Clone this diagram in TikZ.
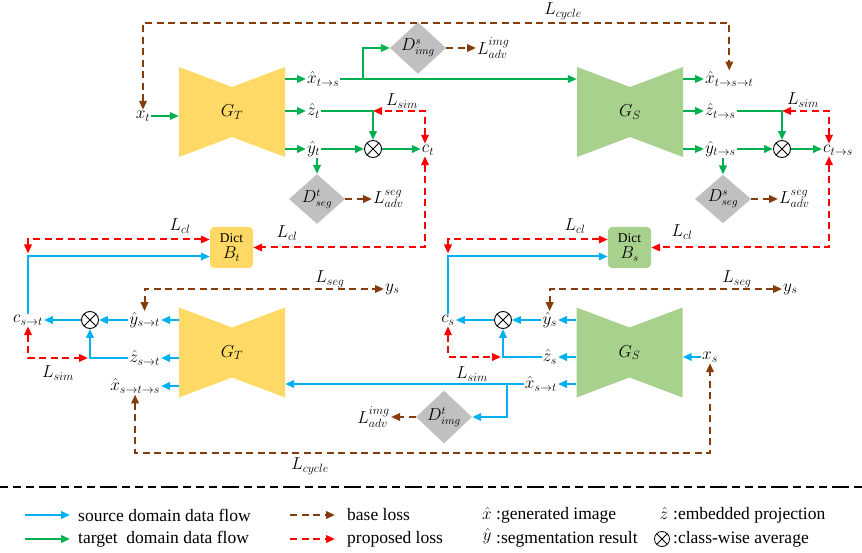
\documentclass[tikz,border=0pt]{standalone}
\usepackage{fontspec}
\setmainfont{Liberation Serif}
\usepackage{xcolor}
\usetikzlibrary{arrows.meta, positioning, calc, shapes.geometric}
\definecolor{tgreen}{HTML}{00B050}
\definecolor{sblue}{HTML}{00B0F0}
\definecolor{lbrown}{HTML}{843C0C}
\definecolor{genyellow}{HTML}{FFD966}
\definecolor{gengreen}{HTML}{A9D18E}
\definecolor{discgray}{HTML}{C0C0C0}

\begin{document}
\begin{tikzpicture}[
        x=1pt, y=-1pt,
        >={Triangle[length=9pt,width=7.5pt]},
        tflow/.style={draw=tgreen, line width=2pt, ->},
        sflow/.style={draw=sblue, line width=2pt, ->},
        baseloss/.style={draw=lbrown, line width=2pt, dash pattern=on 7pt off 4.5pt, ->},
        proploss/.style={draw=red, line width=2pt, dash pattern=on 7pt off 4.5pt, ->},
        lbl/.style={inner sep=1pt, font=\fontsize{16.5}{18}\selectfont},
        legtxt/.style={inner sep=3pt, font=\fontsize{17.5}{20}\selectfont},
        disc/.style={diamond, fill=discgray, minimum width=56pt, minimum height=42pt,
                     inner sep=0pt, font=\fontsize{16}{18}\selectfont},
        avg/.style={circle, draw, line width=0.9pt, minimum size=17pt, inner sep=0pt,
                    path picture={\draw[line width=0.9pt]
                      (path picture bounding box.north west) -- (path picture bounding box.south east)
                      (path picture bounding box.north east) -- (path picture bounding box.south west);}},
        dict/.style={rounded corners=4pt, minimum width=43pt, minimum height=41pt,
                     inner sep=1pt, align=center, font=\fontsize{16}{16}\selectfont},
        gen/.style={minimum width=106pt, minimum height=90pt, inner sep=0pt,
                    font=\fontsize{18}{20}\selectfont,
                    path picture={\fill[#1]
                      (path picture bounding box.north west)
                      -- ($(path picture bounding box.north)+(0,-20pt)$)
                      -- (path picture bounding box.north east)
                      -- (path picture bounding box.south east)
                      -- ($(path picture bounding box.south)+(0,20pt)$)
                      -- (path picture bounding box.south west) -- cycle;}},
        legline/.style={line width=1.6pt, dash pattern=on 8pt off 5pt on 8pt off 5pt on 8pt off 5pt on 17pt off 5pt}
      ]
      \useasboundingbox (0,0) rectangle (862,553);

      \node[lbl] (xt) at (143,116) {$x_t$};
      \node[gen=genyellow] (GT) at (232,112) {$G_T$};
      \node[lbl, anchor=west] (xts) at (306,79) {$\hat{x}_{t\to s}$};
      \node[lbl, anchor=west] (zt) at (306,111) {$\hat{z}_t$};
      \node[lbl, anchor=west] (yt) at (306,149) {$\hat{y}_t$};
      \node[disc] (Dsimg) at (418,48) {$D^{s}_{img}$};
      \node[lbl, anchor=west] (ladvimg1) at (476,48) {$L^{img}_{adv}$};
      \node[avg] (ot1) at (373,149) {};
      \node[lbl] (ct) at (428,150) {$c_t$};
      \node[lbl] (lsim1) at (402,101) {$L_{sim}$};
      \node[disc] (Dtseg) at (317,199) {$D^{t}_{seg}$};
      \node[lbl, anchor=west] (ladvseg1) at (372,199) {$L^{seg}_{adv}$};
      \node[lbl] (lcyc1) at (563,11) {$L_{cycle}$};
      \coordinate (cyctop) at (0,23);

      \node[gen=gengreen] (GS) at (630,112) {$G_S$};
      \node[lbl, anchor=west] (xtst) at (704,79) {$\hat{x}_{t\to s\to t}$};
      \node[lbl, anchor=west] (zts) at (704,111) {$\hat{z}_{t\to s}$};
      \node[lbl, anchor=west] (yts) at (704,149) {$\hat{y}_{t\to s}$};
      \node[avg] (ot2) at (782,149) {};
      \node[lbl] (cts) at (838,150) {$c_{t\to s}$};
      \node[lbl] (lsim2) at (803,100) {$L_{sim}$};
      \node[disc] (Dsseg) at (723,199) {$D^{s}_{seg}$};
      \node[lbl, anchor=west] (ladvseg2) at (778,199) {$L^{seg}_{adv}$};

      \node[dict, fill=genyellow] (Bt) at (231.5,247.5) {{\fontsize{13.5}{14}\selectfont Dict}\\$B_t$};
      \node[lbl] (lcl1) at (180,226) {$L_{cl}$};
      \node[lbl] (lcl2) at (287,233) {$L_{cl}$};
      \node[dict, fill=gengreen] (Bs) at (629.5,247.5) {{\fontsize{13.5}{14}\selectfont Dict}\\$B_s$};
      \node[lbl] (lcl3) at (575,226) {$L_{cl}$};
      \node[lbl] (lcl4) at (682,232) {$L_{cl}$};

      \node[gen=genyellow] (GT2) at (232,352.5) {$G_T$};
      \node[lbl] (cst) at (28,320) {$c_{s\to t}$};
      \node[avg] (ot3) at (90,320) {};
      \node[lbl, anchor=east] (yst) at (161,320) {$\hat{y}_{s\to t}$};
      \node[lbl, anchor=east] (zst) at (161,358) {$\hat{z}_{s\to t}$};
      \node[lbl, anchor=east] (xsts) at (161,386) {$\hat{x}_{s\to t\to s}$};
      \node[lbl] (lsim3) at (58,373) {$L_{sim}$};
      \node[lbl, anchor=west] (ys1) at (384,289) {$y_s$};
      \node[lbl] (lseg1) at (330,279) {$L_{seg}$};
      \node[disc] (Dtimg) at (444,417) {$D^{t}_{img}$};
      \node[lbl, anchor=east] (ladvimg2) at (391,417) {$L^{img}_{adv}$};
      \node[lbl] (lcyc2) at (310,466) {$L_{cycle}$};
      \coordinate (cycbot) at (0,453);

      \node[gen=gengreen] (GS2) at (629.5,352.5) {$G_S$};
      \node[lbl] (cs) at (448,320) {$c_s$};
      \node[avg] (ot4) at (503,320) {};
      \node[lbl, anchor=east] (ysh) at (558,320) {$\hat{y}_s$};
      \node[lbl, anchor=east] (zs) at (558,357) {$\hat{z}_s$};
      \node[lbl, anchor=east] (xst) at (558,384) {$\hat{x}_{s\to t}$};
      \node[lbl, anchor=west] (xs) at (701,357) {$x_s$};
      \node[lbl] (lsim4) at (472,374) {$L_{sim}$};
      \node[lbl, anchor=west] (ys2) at (782,289) {$y_s$};
      \node[lbl] (lseg2) at (737,279) {$L_{seg}$};

      \draw[baseloss, <->] (xt.north) -- (xt.north |- cyctop) -| (xtst.north);
      \draw[tflow] (xt.east) -- (xt.east -| GT.west);
      \draw[tflow] (GT.east |- xts.west) -- (xts.west);
      \draw[tflow] (GT.east |- zt.west) -- (zt.west);
      \draw[tflow] (GT.east |- yt.west) -- (yt.west);
      \draw[tflow] (xts.east) -- (xts.east -| GS.west);
      \draw[tflow] ($(xts.east)+(23pt,0)$) |- (Dsimg.west);
      \draw[baseloss] (Dsimg.east) -- (ladvimg1.west);
      \draw[tflow] (zt.east) -| (ot1.north);
      \draw[tflow] (yt.east) -- (ot1.west);
      \draw[tflow] (ot1.east) -- (ot1.east -| ct.west);
      \draw[proploss, <->] ($(ct.north)+(-3pt,0)$) |- (ot1.north |- zt.east);
      \draw[tflow] (yt.south -| Dtseg.north) -- (Dtseg.north);
      \draw[baseloss] (Dtseg.east) -- (ladvseg1.west);
      \draw[proploss, <->] ($(ct.south)+(-3pt,0)$) |- (Bt.east);

      \draw[tflow] (GS.east |- xtst.west) -- (xtst.west);
      \draw[tflow] (GS.east |- zts.west) -- (zts.west);
      \draw[tflow] (GS.east |- yts.west) -- (yts.west);
      \draw[tflow] (zts.east) -| (ot2.north);
      \draw[tflow] (yts.east) -- (ot2.west);
      \draw[tflow] (ot2.east) -- (ot2.east -| cts.west);
      \draw[proploss, <->] ($(cts.north)+(-9pt,0)$) |- (ot2.north |- zts.east);
      \draw[tflow] (yts.south -| Dsseg.north) -- (Dsseg.north);
      \draw[baseloss] (Dsseg.east) -- (ladvseg2.west);
      \draw[proploss, <->] ($(cts.south)+(-9pt,0)$) |- (Bs.east);

      \draw[sflow] (cst.north) |- ($(Bt.west)+(0,-9pt)$);
      \draw[proploss, <->] ($(Bt.west)+(0,8pt)$) -| ($(cst.north |- Bt.west)+(0,-6pt)$);
      \draw[sflow] (GT2.west |- yst.east) -- (yst.east);
      \draw[sflow] (GT2.west |- zst.east) -- (zst.east);
      \draw[sflow] (GT2.west |- xsts.east) -- (xsts.east);
      \draw[sflow] (yst.west) -- (ot3.east);
      \draw[sflow] (ot3.west) -- (cst.east);
      \draw[sflow] (zst.west) -| (ot3.south);
      \draw[proploss, <->] (cst.south) |- ($(ot3.south |- zst.west)+(-2pt,0)$);
      \draw[baseloss, <->] (yst.north) |- (ys1.west);
      \draw[baseloss, <->] (xsts.south) -- (xsts.south |- cycbot) -| (xs.south);

      \draw[sflow] (xs.west) -- (xs.west -| GS2.east);
      \draw[sflow] (GS2.west |- ysh.east) -- (ysh.east);
      \draw[sflow] (GS2.west |- zs.east) -- (zs.east);
      \draw[sflow] (GS2.west |- xst.east) -- (xst.east);
      \draw[sflow] (xst.west) -- (xst.west -| GT2.east);
      \draw[sflow] ($(xst.west)+(-17pt,0)$) |- (Dtimg.east);
      \draw[baseloss] (Dtimg.west) -- (ladvimg2.east);
      \draw[sflow] (cs.north) |- ($(Bs.west)+(0,-9pt)$);
      \draw[proploss, <->] ($(Bs.west)+(0,8pt)$) -| ($(cs.north |- Bs.west)+(0,-6pt)$);
      \draw[sflow] (ysh.west) -- (ot4.east);
      \draw[sflow] (ot4.west) -- (cs.east);
      \draw[sflow] (zs.west) -| (ot4.south);
      \draw[proploss, <->] (cs.south) |- ($(ot4.south |- zs.west)+(-2pt,0)$);
      \draw[baseloss, <->] (ysh.north) |- (ys2.west);

      \draw[legline] (0,487) -- (862,487);
      \node[legtxt, anchor=west] (lgsrc) at (75,515) {source domain data flow};
      \node[legtxt, anchor=west] (lgtgt) at (75,539) {target\ \ domain data flow};
      \node[legtxt, anchor=west] (lgbase) at (344,515) {base loss};
      \node[legtxt, anchor=west] (lgprop) at (344,539) {proposed loss};
      \node[legtxt, inner sep=1pt] (lgxs) at (487,513) {$\hat{x}$};
      \node[legtxt, anchor=west] (lgx) at (493,515) {:generated image};
      \node[legtxt, inner sep=1pt] (lgys) at (487,536) {$\hat{y}$};
      \node[legtxt, anchor=west] (lgy) at (493,539) {:segmentation result};
      \node[legtxt, inner sep=1pt] (lgzs) at (664,513) {$\hat{z}$};
      \node[legtxt, anchor=west] (lgz) at (670,515) {:embedded projection};
      \node[avg, minimum size=15pt, line width=0.8pt] (lgot) at (662,539) {};
      \node[legtxt, anchor=west] (lgavg) at (670,539) {:class-wise average};
      \draw[sflow] ($(lgsrc.west)+(-50pt,0)$) -- ($(lgsrc.west)+(-5pt,0)$);
      \draw[tflow] ($(lgtgt.west)+(-50pt,0)$) -- ($(lgtgt.west)+(-5pt,0)$);
      \draw[baseloss] ($(lgbase.west)+(-54pt,0)$) -- ($(lgbase.west)+(-9pt,0)$);
      \draw[proploss] ($(lgprop.west)+(-54pt,0)$) -- ($(lgprop.west)+(-9pt,0)$);
    \end{tikzpicture}
\end{document}
